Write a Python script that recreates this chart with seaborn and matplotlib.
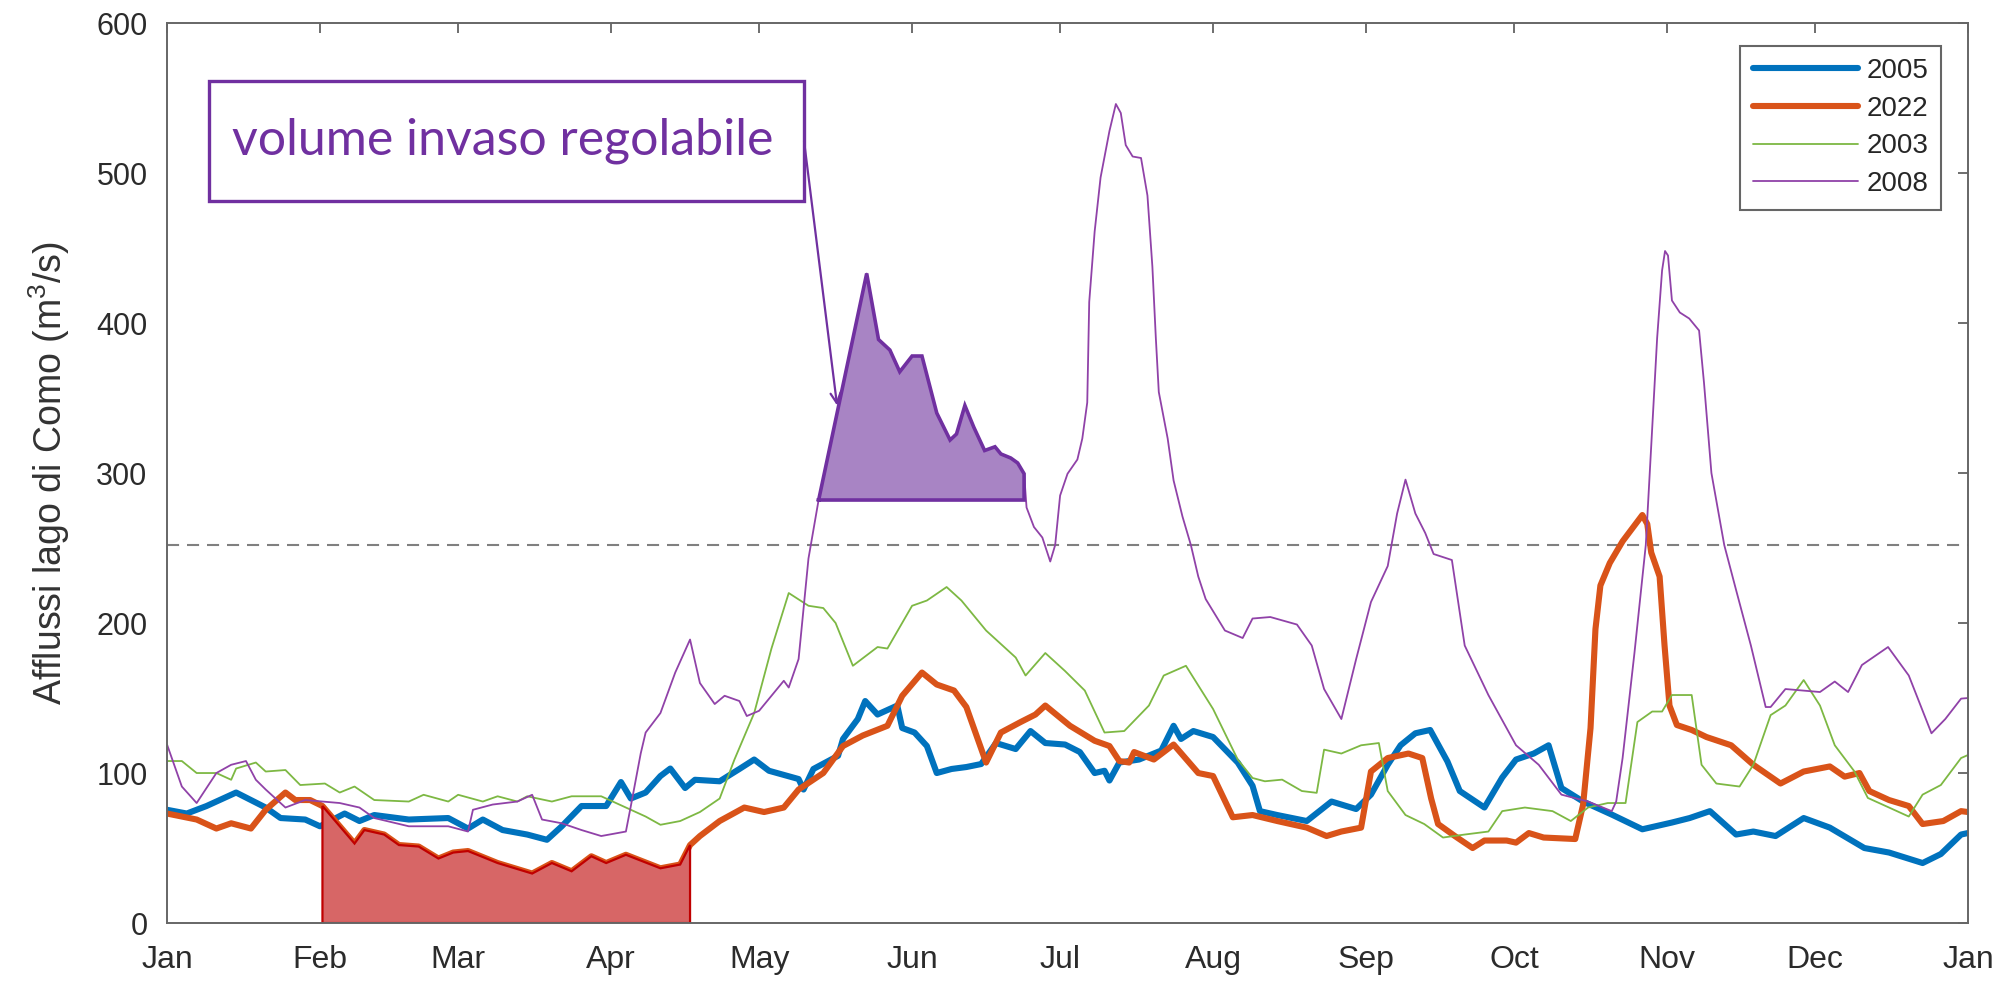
import numpy as np
import pandas as pd
import matplotlib
matplotlib.use("Agg")
import matplotlib.pyplot as plt
from matplotlib.patches import Rectangle
import seaborn as sns

# giorni dell'anno e afflussi (m3/s)
d05 = [0, 4, 8, 10, 14, 17, 20, 23, 28, 31, 36, 39, 42, 49, 57, 61, 64, 68, 73, 77,
       80, 84, 89, 92, 94, 97, 100, 102, 105, 107, 112, 116, 119, 122, 128, 129, 131, 136, 137, 140,
       141.5, 144, 148, 149, 151.5, 154, 156, 159, 162, 165, 168, 172, 175, 178, 182, 185, 188, 190, 191, 193,
       197, 201.5, 204, 205.5, 208, 212, 217, 220, 221.5, 225, 231, 236, 241, 244, 247.4, 250, 253, 256, 259.5, 262,
       267, 270.6, 273.4, 277, 280, 282.6, 287, 293, 299, 305, 308.6, 312.7, 318, 321.5, 326, 331.7, 337, 344, 349, 355.8,
       359.5, 363.6, 365]
v05 = [75.5, 73, 78, 81, 87, 82, 77, 70, 69, 64.5, 73, 68, 72, 69, 70, 63, 69, 62, 59, 55.5,
       64.5, 78, 78, 94, 83, 87, 98, 103, 90, 95.5, 94.5, 102.7, 109, 101.5, 96, 89, 102.7, 111.5, 122.7, 136,
       148, 139, 145, 130, 127, 118, 100, 102.7, 104, 106, 120, 116, 128, 120, 119, 114, 100, 101.5, 95, 107,
       109, 115, 131.5, 122.7, 128, 124, 107, 91.5, 74.6, 72, 68, 81, 76, 85.6, 105.5, 118.5, 126.5, 128.7, 107.7, 88,
       77, 97, 109, 113, 118.5, 90, 81, 72, 62.5, 67, 70, 74.6, 59, 61, 58, 70, 63.6, 50, 47, 40,
       46, 59, 60]

d22 = [0, 6, 10, 13, 17, 20, 24, 26, 29, 31.5, 38, 40, 44, 47, 51, 55, 58, 61, 67, 74,
       78, 82, 86, 89, 93, 100, 104, 106, 108, 112, 117, 121, 125, 128, 133, 137, 141, 146, 149, 153,
       156, 159.5, 162, 166, 169, 173, 176, 178, 183, 188, 191, 193, 195, 196, 200, 204, 209, 212, 216, 220,
       225, 231, 235, 238, 242, 244, 247.4, 251.6, 254.4, 256.2, 257.6, 261, 264.6, 267, 271.5, 273.4, 276, 279, 285.4, 287,
       288.5, 289.5, 290.5, 292.4, 295, 299, 300, 300.8, 302.5, 303.5, 304.5, 306, 309, 312, 317, 321.5, 327, 331.7, 337, 340,
       343, 345, 349, 353, 355.8, 360, 363.6, 365]
v22 = [73, 69, 63, 66.5, 63, 75.5, 87, 82, 82, 78, 53, 62, 59, 52, 51, 43, 47, 48, 40, 33,
       40, 34.5, 44.5, 40, 45.5, 36.5, 39, 52, 58, 68, 77, 74, 77, 89, 100, 118, 125, 131.5, 151.5, 167,
       159, 155, 144, 107, 127, 134, 139, 145, 131.5, 121.5, 118, 108, 107, 114, 109, 119, 100, 98, 70.5, 72,
       68, 63.6, 58, 61, 63.6, 101, 110, 113, 110, 83, 66, 58, 50, 55, 55, 53.6, 60, 57, 56, 79,
       130, 196, 225, 240, 254.5, 272, 266, 247, 231, 185, 145, 132, 128.7, 124, 118.5, 105.5, 93, 101, 104.4, 97.6,
       100, 88, 82, 78, 66, 68, 74.6, 74]

d03 = [0, 3, 6, 10, 13, 14, 18, 20, 24, 27, 32, 35, 38, 42, 49, 52, 57, 59, 64, 67,
       71, 73, 78, 82, 88, 93, 97, 100, 104, 108, 112, 115, 119, 122.5, 126, 130, 133, 135.5, 139, 144,
       146, 151, 154, 158, 161, 166, 172, 174, 178, 182, 186, 190, 194, 199, 202, 206.5, 212, 217, 220, 222.5,
       226, 230, 233, 234.5, 238, 242, 245.6, 247.4, 251, 254.8, 258.6, 263, 267.8, 270.6, 275.2, 280.8, 284.5, 288, 292, 295.6,
       298, 301, 303, 305, 309, 311, 314, 318.7, 321.5, 325, 328, 331.7, 335, 338, 342, 344.7, 349, 353, 355.8, 359.5,
       363.6, 365]
v03 = [108, 108, 100, 100, 95.5, 103, 107, 101, 102, 92, 93, 87, 91, 82, 81, 85.5, 81, 85.5, 81, 84.5,
       81, 84.5, 81, 84.5, 84.5, 77, 71, 65.5, 68, 74, 83, 109, 140, 183, 220, 211.5, 210, 200, 171.5, 184,
       183, 211.5, 215, 224, 215, 195, 177, 165, 180, 168, 155, 127, 128, 145, 165, 171.5, 142.7, 109, 96.7, 94.5,
       95.6, 88, 86.8, 115.6, 113, 118.5, 120, 88, 72, 66, 57, 59, 61, 74.6, 77, 74.6, 68, 77, 80, 80,
       134, 141, 141, 152, 152, 105.5, 93, 91, 105.5, 138.6, 145, 162, 145, 118.5, 101, 83.4, 77, 71, 85.6, 92,
       110, 112]

d08 = [0, 3, 6, 10, 13, 16, 18, 20, 24, 28, 35, 39, 42, 49, 57, 61, 62, 66, 71, 74,
       76, 80, 84, 88, 93, 94, 96, 97, 100, 103, 106, 108, 111, 113, 116, 117.5, 120, 125, 126, 128,
       130, 132, 141.8, 144.2, 146.5, 148.5, 151, 153, 156, 158.7, 160, 161.7, 163.5, 165.7, 167.8, 169, 171, 172.4, 173.7, 174.2,
       175.7, 177.4, 179, 180, 181, 182.5, 184.5, 185.5, 186.5, 186.9, 188, 189.2, 191, 192.3, 193.3, 194.3, 195.7, 197.4, 198.7, 199.7,
       200.4, 201, 202.8, 204, 205.8, 207.5, 209, 210.5, 214.4, 218, 220, 223.6, 229, 232, 234.5, 238, 241, 244, 247.4, 249.3,
       251, 253, 255, 256.7, 260.4, 263, 267.8, 273.4, 278, 282.6, 288, 292.8, 293.7, 295, 297.4, 299.7, 301, 302, 303, 303.6,
       304.2, 305, 306.6, 308.5, 310.5, 311.5, 313, 315.6, 318, 321, 324, 325, 328, 335, 338, 340.7, 343.5,
       348.8, 353, 357.6, 360.4, 363.6, 365]
v08 = [119, 91, 80, 100, 105.5, 108, 95.5, 89, 77, 82, 80, 77, 70, 64.5, 64.5, 61, 75.5, 79, 81, 85.5,
       69, 66.5, 62, 58, 61, 78, 113, 127, 140, 167, 189, 160, 146, 151.5, 148, 138, 141.5, 161.5, 157, 176,
       243, 281, 433, 389, 382, 367.5, 378, 378, 340, 322, 326, 345, 330.6, 315, 317.5, 312.7, 310, 306.7, 299.5, 277,
       264, 257, 241, 252, 285, 299.5, 309, 323, 347, 414, 461, 497, 528, 546, 540, 518.6, 511, 510, 485, 437.6,
       390, 354, 323, 295, 271, 252, 231, 216, 195, 190, 203, 204, 199, 185, 156, 136, 176, 214, 238, 273,
       295.6, 273, 260, 246, 242, 185, 152, 118.5, 105.5, 85.6, 81, 74.6, 81, 110, 180, 252, 330, 390, 435, 448,
       445, 415, 407, 403, 395, 360, 300, 252, 222, 185, 144, 144, 156, 154, 161, 154, 172,
       184, 165, 126.5, 136, 149.6, 150]

mesi = ["Jan", "Feb", "Mar", "Apr", "May", "Jun", "Jul", "Aug", "Sep", "Oct", "Nov", "Dec", "Jan"]
inizio_mesi = [0, 31, 59, 90, 120, 151, 181, 212, 243, 273, 304, 334, 365]
soglia = 252
base_invaso = 282
finestra_2022 = (31.5, 106)
finestra_2008 = (132, 173.7)

sns.set_style("white")
plt.rcParams['font.family'] = ['Liberation Sans', 'DejaVu Sans']
plt.rcParams['mathtext.default'] = 'regular'

fig = plt.figure(figsize=(20.1, 9.83), dpi=100)
ax = fig.add_axes([0.0831, 0.0610, 0.8960, 0.9156])

serie = [("2005", d05, v05, "#0072BD", 4.4),
         ("2022", d22, v22, "#D95319", 4.4),
         ("2003", d03, v03, "#7DB843", 1.3),
         ("2008", d08, v08, "#9042A8", 1.3)]
for nome, d, v, col, lw in serie:
    df = pd.DataFrame({"giorno": d, "portata": v})
    sns.lineplot(data=df, x="giorno", y="portata", color=col, linewidth=lw,
                 label=nome, ax=ax, estimator=None, sort=False)

ax.axhline(soglia, color="#808080", lw=1.5, ls=(0, (5.8, 3.8)), zorder=1.5)

# area rossa sotto la curva 2022
x22 = np.array(d22); y22 = np.array(v22)
m = (x22 >= finestra_2022[0]) & (x22 <= finestra_2022[1])
xr = np.concatenate([[finestra_2022[0]], x22[m], [finestra_2022[1]]])
yr = np.concatenate([[0], y22[m], [0]])
ax.fill(xr, yr, facecolor="#D76666", edgecolor="#C00000", lw=1.6, zorder=2.2)

# volume invaso regolabile (2008 sopra la base)
x08 = np.array(d08); y08 = np.array(v08)
m = (x08 >= finestra_2008[0]) & (x08 <= finestra_2008[1])
xp = np.concatenate([[finestra_2008[0]], x08[m], [finestra_2008[1]]])
yp = np.concatenate([[base_invaso], y08[m], [base_invaso]])
ax.fill(xp, yp, facecolor="#A884C4", edgecolor="#7030A0", lw=2.6, zorder=2.3)

ax.add_patch(Rectangle((0.0233, 0.802), 0.3304, 0.1336, transform=ax.transAxes,
                       facecolor="white", edgecolor="#7030A0", lw=2.4, zorder=5))
ax.text(0.1866, 0.869, "volume invaso regolabile", transform=ax.transAxes,
        ha="center", va="center", color="#7030A0", fontsize=36,
        family=["Lato", "DejaVu Sans"], zorder=6)
ax.annotate("", xy=(135.8, 345), xycoords="data", xytext=(0.3537, 0.869),
            textcoords="axes fraction",
            arrowprops=dict(arrowstyle="->", color="#7030A0", lw=1.6,
                            shrinkA=0, shrinkB=0, mutation_scale=18), zorder=6)

ax.set_xlim(0, 365)
ax.set_ylim(0, 600)
ax.set_xticks(inizio_mesi)
ax.set_xticklabels(mesi)
ax.set_yticks(range(0, 601, 100))
ax.set_xlabel("")
ax.set_ylabel("Afflussi lago di Como (m$^3$/s)", fontsize=27, color="#333333")
ax.yaxis.set_label_coords(-0.053, 0.5)
ax.tick_params(direction="in", length=7, width=1.2, top=True, right=True,
               color="#555555", labelcolor="#2b2b2b")
ax.tick_params(axis="x", labelsize=23, pad=16)
ax.tick_params(axis="y", labelsize=22, pad=14)
for s in ax.spines.values():
    s.set_color("#666666")
    s.set_linewidth(1.4)

leg = ax.legend(loc="upper right", bbox_to_anchor=(0.985, 0.975), fontsize=20,
                handlelength=3.8, handletextpad=0.3, labelspacing=0.42,
                borderpad=0.45, frameon=True, fancybox=False, edgecolor="#666666",
                framealpha=1, borderaxespad=0)
leg.get_frame().set_linewidth(1.5)

fig.savefig("out.png", dpi=100)
